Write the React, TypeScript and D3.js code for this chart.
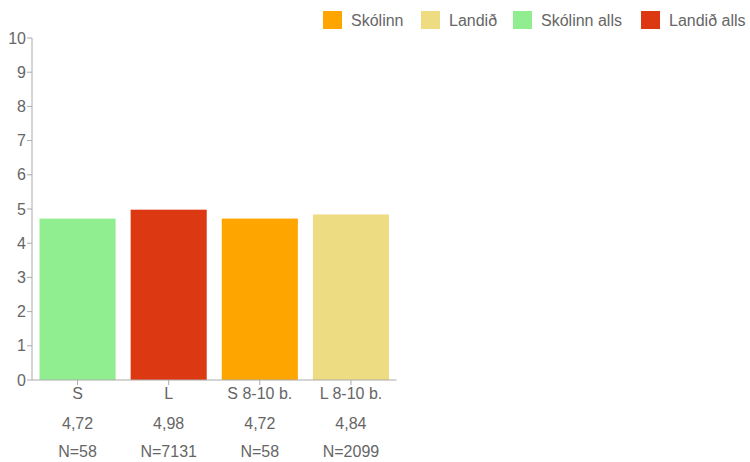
import React from "react";
import * as d3 from "d3";

const categories = ["S", "L", "S 8-10 b.", "L 8-10 b."];
const values = [4.72, 4.98, 4.72, 4.84];
const valueLabels = ["4,72", "4,98", "4,72", "4,84"];
const counts = ["N=58", "N=7131", "N=58", "N=2099"];
const barColors = ["#90EE90", "#DC3912", "#FFA500", "#EEDC82"];
const yTicks = [0, 1, 2, 3, 4, 5, 6, 7, 8, 9, 10];
const legendLabels = ["Skólinn", "Landið", "Skólinn alls", "Landið alls"];
const legendColors = ["#FFA500", "#EEDC82", "#90EE90", "#DC3912"];
const legendX = [323, 421, 513, 641];

const W = 750;
const H = 462;
const FONT = "'Liberation Sans', Arial, Helvetica, sans-serif";
const TEXT = "#666";
const AXIS = "#aaa";

export default function App() {
  const x = d3
    .scaleBand<string>()
    .domain(categories)
    .range([32, 396.5])
    .paddingInner(0.165)
    .paddingOuter(0.0825);
  const y = d3.scaleLinear().domain([0, 10]).range([380, 38]);

  return (
    <svg
      width={W}
      height={H}
      style={{ position: "absolute", left: 0, top: 0, fontFamily: FONT }}
    >
      {/* legend */}
      {legendLabels.map((l, i) => (
        <g key={l}>
          <rect x={legendX[i]} y={11} width={19} height={18} fill={legendColors[i]} />
          <text x={legendX[i] + 28} y={26} fontSize={16} fill={TEXT}>
            {l}
          </text>
        </g>
      ))}

      {/* bars */}
      {categories.map((c, i) => (
        <rect
          key={c}
          x={x(c)}
          y={y(values[i])}
          width={x.bandwidth()}
          height={y(0) - y(values[i])}
          fill={barColors[i]}
        />
      ))}

      {/* y axis */}
      <line x1={32} x2={32} y1={y(10)} y2={y(0)} stroke={AXIS} strokeWidth={1} />
      {yTicks.map((t) => (
        <g key={t}>
          <line x1={27} x2={32} y1={y(t)} y2={y(t)} stroke={AXIS} />
          <text
            x={26}
            y={y(t)}
            dy="0.35em"
            textAnchor="end"
            fontSize={16}
            fill={TEXT}
          >
            {t}
          </text>
        </g>
      ))}

      {/* x axis */}
      <line x1={32} x2={396.5} y1={y(0)} y2={y(0)} stroke={AXIS} />
      {categories.map((c, i) => {
        const cx = (x(c) as number) + x.bandwidth() / 2;
        return (
          <g key={c}>
            <line x1={cx} x2={cx} y1={y(0)} y2={y(0) + 5} stroke={AXIS} />
            <text x={cx} y={399} textAnchor="middle" fontSize={16} fill={TEXT}>
              {c}
            </text>
            <text x={cx} y={429} textAnchor="middle" fontSize={16} fill={TEXT}>
              {valueLabels[i]}
            </text>
            <text x={cx} y={457} textAnchor="middle" fontSize={16} fill={TEXT}>
              {counts[i]}
            </text>
          </g>
        );
      })}
    </svg>
  );
}
